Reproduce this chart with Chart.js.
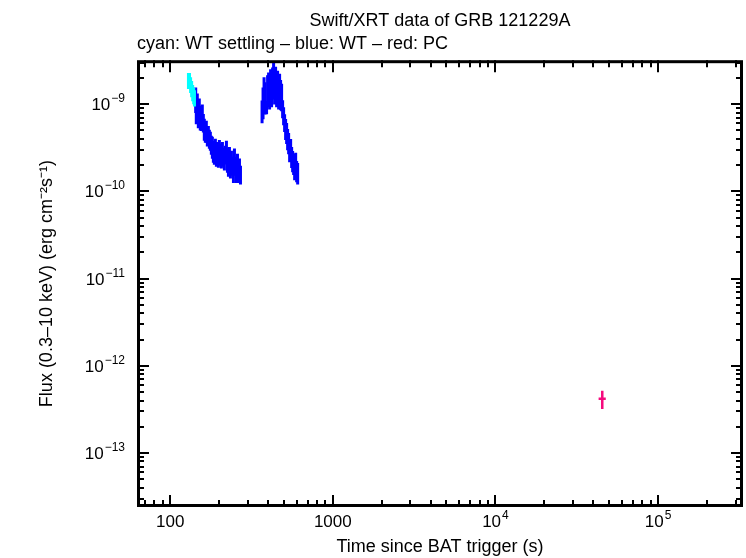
<!DOCTYPE html>
<html><head><meta charset="utf-8">
<script src="https://cdn.jsdelivr.net/npm/chart.js@4/dist/chart.umd.min.js"></script>
<style>html,body{margin:0;padding:0;background:#fff;}</style>
</head><body>
<canvas id="c" width="746" height="558"></canvas>
<script>
const titleText = 'Swift/XRT data of GRB 121229A';
const subtitleText = 'cyan: WT settling \u2013 blue: WT \u2013 red: PC';
const xAxisTitle = 'Time since BAT trigger (s)';
const yAxisTitle = 'Flux (0.3\u201310 keV) (erg cm\u207B\u00B2s\u207B\u00B9)';
const xTickValues = [100, 1000, 10000, 100000];
const xTickLabels = ['100', '1000', '10^{4}', '10^{5}'];
const yTickValues = [1e-9, 1e-10, 1e-11, 1e-12, 1e-13];
const yTickLabels = ['10^{\u22129}', '10^{\u221210}', '10^{\u221211}', '10^{\u221212}', '10^{\u221213}'];

// WT settling (cyan)
const settleTime = [129.5, 131.5, 133.5, 135.5, 137.5, 139.5, 141.0];
const settleTimeErr = [1.0, 1.0, 1.0, 1.0, 1.0, 1.0, 0.8];
const settleFlux = [1.88e-9, 1.88e-9, 1.69e-9, 1.52e-9, 1.37e-9, 1.27e-9, 1.19e-9];
const settleErr = [3.9e-10, 3.9e-10, 3.5e-10, 3.2e-10, 2.9e-10, 2.7e-10, 2.5e-10];

// WT (blue)
const wtTime = [143.5,144.7,146.8,148.9,151.0,153.1,155.4,157.6,159.9,162.1,164.5,166.8,169.2,171.7,174.1,176.6,179.1,181.7,184.3,186.9,189.6,192.3,195.1,197.9,200.7,203.6,206.5,209.5,212.5,215.4,218.6,221.7,224.9,228.1,231.4,234.7,238.1,241.5,244.9,248.4,252.0,255.6,259.3,263.0,266.7,270.5,
  367.2,372.4,377.8,383.2,391.4,397.1,402.8,408.5,414.4,420.3,426.3,432.4,438.5,444.8,451.2,457.6,464.2,470.8,477.5,484.3,491.3,498.3,505.4,512.6,520.0,527.4,535.0,542.6,550.4,558.3,566.2,574.3,582.5,590.9,599.3,607.9];
const wtFlux = [1.17e-9,9.0e-10,1.0e-9,8.1e-10,9.0e-10,7.29e-10,6.91e-10,7.68e-10,6.22e-10,5.31e-10,4.78e-10,5.04e-10,4.30e-10,4.53e-10,4.08e-10,3.87e-10,3.48e-10,3.30e-10,2.97e-10,2.82e-10,3.13e-10,2.54e-10,2.97e-10,2.60e-10,3.13e-10,2.75e-10,2.41e-10,2.97e-10,2.54e-10,2.28e-10,2.68e-10,2.97e-10,2.41e-10,2.05e-10,2.60e-10,1.95e-10,2.28e-10,2.00e-10,1.75e-10,2.41e-10,2.00e-10,1.75e-10,2.11e-10,1.66e-10,1.85e-10,1.58e-10,
  8.54e-10,1.11e-9,1.45e-9,1.27e-9,9.24e-10,1.53e-9,1.65e-9,1.45e-9,1.79e-9,1.53e-9,1.88e-9,2.33e-9,1.65e-9,1.99e-9,1.53e-9,1.79e-9,1.45e-9,1.65e-9,1.37e-9,1.27e-9,9.0e-10,7.48e-10,6.22e-10,5.31e-10,4.78e-10,4.08e-10,3.67e-10,2.97e-10,3.13e-10,2.54e-10,2.28e-10,2.11e-10,1.85e-10,2.17e-10,1.75e-10,1.66e-10];
const wtErr = [3.8e-10,3.1e-10,3.2e-10,2.8e-10,2.6e-10,2.3e-10,2.0e-10,2.2e-10,1.5e-10,1.5e-10,1.16e-10,1.43e-10,1.04e-10,1.1e-10,9.9e-11,9.5e-11,8.5e-11,9.3e-11,8.4e-11,8.0e-11,8.9e-11,6.2e-11,7.2e-11,7.4e-11,7.6e-11,7.8e-11,5.8e-11,7.2e-11,6.2e-11,5.5e-11,6.5e-11,8.4e-11,7.8e-11,5.8e-11,6.3e-11,5.5e-11,6.5e-11,4.9e-11,5.0e-11,6.9e-11,4.9e-11,5.0e-11,5.9e-11,4.1e-11,5.3e-11,3.8e-11,
  2.5e-10,4.4e-10,5.8e-10,5.1e-10,1.6e-10,6.1e-10,6.6e-10,5.8e-10,7.2e-10,6.1e-10,7.5e-10,7.0e-10,6.6e-10,7.0e-10,6.1e-10,6.3e-10,5.8e-10,5.8e-10,5.2e-10,4.4e-10,2.1e-10,1.75e-10,1.43e-10,1.43e-10,1.3e-10,1.12e-10,1.0e-10,8.1e-11,8.6e-11,6.9e-11,6.2e-11,5.7e-11,5.1e-11,6.0e-11,4.8e-11,4.6e-11];

// PC (red)
const pcTime = [45400];
const pcTimeErr = [2300];
const pcFlux = [4.19e-13];
const pcErr = [1.0e-13];

const FONT = "'Liberation Sans', Arial, Helvetica, sans-serif";

function pts(t, f, e, te) {
  return t.map((v, i) => ({ x: v, y: f[i], yerr: e[i], xerr: te ? te[i] : 0 }));
}

function drawLabel(ctx, text, x, y, align) {
  const m = text.match(/^(.*?)\^\{(.*)\}$/);
  const base = m ? m[1] : text, exp = m ? m[2] : '';
  ctx.font = '17px ' + FONT;
  const wb = ctx.measureText(base).width;
  ctx.font = '12px ' + FONT;
  const we = exp ? ctx.measureText(exp).width + 1 : 0;
  const total = wb + we;
  const x0 = align === 'center' ? x - total / 2 : x - total;
  ctx.textAlign = 'left';
  ctx.textBaseline = 'alphabetic';
  ctx.fillStyle = '#000';
  ctx.font = '17px ' + FONT;
  ctx.fillText(base, x0, y);
  if (exp) {
    ctx.font = '12px ' + FONT;
    ctx.fillText(exp, x0 + wb + 1, y - 8);
  }
}

const errPlugin = {
  id: 'errbars',
  afterDatasetsDraw(chart) {
    const { ctx, chartArea: a, scales: { x, y } } = chart;
    ctx.save();
    ctx.beginPath();
    ctx.rect(a.left, a.top, a.right - a.left, a.bottom - a.top);
    ctx.clip();
    chart.data.datasets.forEach(ds => {
      ctx.strokeStyle = ds.borderColor;
      ctx.lineWidth = ds.errWidth;
      ctx.lineCap = 'butt';
      ds.data.forEach(p => {
        const px = x.getPixelForValue(p.x), py = y.getPixelForValue(p.y);
        ctx.beginPath();
        ctx.moveTo(px, y.getPixelForValue(p.y + p.yerr));
        ctx.lineTo(px, y.getPixelForValue(Math.max(p.y - p.yerr, 1e-30)));
        if (p.xerr) {
          ctx.moveTo(x.getPixelForValue(p.x - p.xerr), py);
          ctx.lineTo(x.getPixelForValue(p.x + p.xerr), py);
        }
        ctx.stroke();
      });
    });
    ctx.restore();

    // frame and tick marks
    ctx.save();
    ctx.strokeStyle = '#000';
    ctx.lineWidth = 3;
    ctx.strokeRect(a.left + 1.5, a.top + 1.5, a.right - a.left - 3, a.bottom - a.top - 3);
    ctx.lineWidth = 2;
    ctx.beginPath();
    for (let d = 1; d <= 6; d++) {
      for (let m = 1; m <= 9; m++) {
        const v = m * Math.pow(10, d);
        if (v <= x.min || v >= x.max) continue;
        const px = Math.round(x.getPixelForValue(v));
        const len = m === 1 ? 12 : 7;
        ctx.moveTo(px, a.bottom); ctx.lineTo(px, a.bottom - len);
        ctx.moveTo(px, a.top); ctx.lineTo(px, a.top + len);
      }
    }
    for (let d = -15; d <= -7; d++) {
      for (let m = 1; m <= 9; m++) {
        const v = m * Math.pow(10, d);
        if (v <= y.min || v >= y.max) continue;
        const py = Math.round(y.getPixelForValue(v));
        const len = m === 1 ? 12 : 7;
        ctx.moveTo(a.left, py); ctx.lineTo(a.left + len, py);
        ctx.moveTo(a.right, py); ctx.lineTo(a.right - len, py);
      }
    }
    ctx.stroke();

    // tick labels, placed by the scales
    xTickValues.forEach((v, i) => drawLabel(ctx, xTickLabels[i], x.getPixelForValue(v), a.bottom + 20, 'center'));
    yTickValues.forEach((v, i) => drawLabel(ctx, yTickLabels[i], a.left - 12, y.getPixelForValue(v) + 6, 'right'));
    ctx.restore();
  }
};

new Chart(document.getElementById('c'), {
  type: 'scatter',
  data: {
    datasets: [
      { label: 'WT', data: pts(wtTime, wtFlux, wtErr, null), borderColor: '#0000ff', backgroundColor: '#0000ff', pointRadius: 0, showLine: false, errWidth: 3 },
      { label: 'WT settling', data: pts(settleTime, settleFlux, settleErr, settleTimeErr), borderColor: '#00ffff', backgroundColor: '#00ffff', pointRadius: 0, showLine: false, errWidth: 3 },
      { label: 'PC', data: pts(pcTime, pcFlux, pcErr, pcTimeErr), borderColor: '#f50a7d', backgroundColor: '#f50a7d', pointRadius: 0, showLine: false, errWidth: 2.5 }
    ]
  },
  options: {
    responsive: false,
    animation: false,
    devicePixelRatio: 1,
    layout: { padding: { left: 0, right: 3, top: 0, bottom: 0 } },
    plugins: {
      legend: { display: false },
      tooltip: { enabled: false },
      title: { display: true, text: titleText, fullSize: false, align: 'center', color: '#000', font: { family: FONT, size: 18, weight: 'normal' }, padding: { top: 10, bottom: 2 } },
      subtitle: { display: true, text: subtitleText, fullSize: false, align: 'start', color: '#000', font: { family: FONT, size: 18, weight: 'normal' }, padding: { top: 0, bottom: 5 } }
    },
    scales: {
      x: {
        type: 'logarithmic', position: 'bottom', min: 62.5, max: 3.33e5,
        grid: { display: false }, border: { display: false },
        afterBuildTicks: s => { s.ticks = xTickValues.map(v => ({ value: v })); },
        afterFit: s => { s.height = 51; },
        ticks: { display: false, autoSkip: false },
        title: { display: true, text: xAxisTitle, color: '#000', font: { family: FONT, size: 18 }, padding: { top: 0, bottom: 0 } }
      },
      y: {
        type: 'logarithmic', position: 'left', min: 2.405e-14, max: 3.19e-9,
        grid: { display: false }, border: { display: false },
        afterBuildTicks: s => { s.ticks = yTickValues.map(v => ({ value: v })); },
        afterFit: s => { s.width = 137; },
        ticks: { display: false, autoSkip: false },
        title: { display: true, text: yAxisTitle, color: '#000', font: { family: FONT, size: 18 }, padding: { top: 36, bottom: 0 } }
      }
    }
  },
  plugins: [errPlugin]
});
</script>
</body></html>
